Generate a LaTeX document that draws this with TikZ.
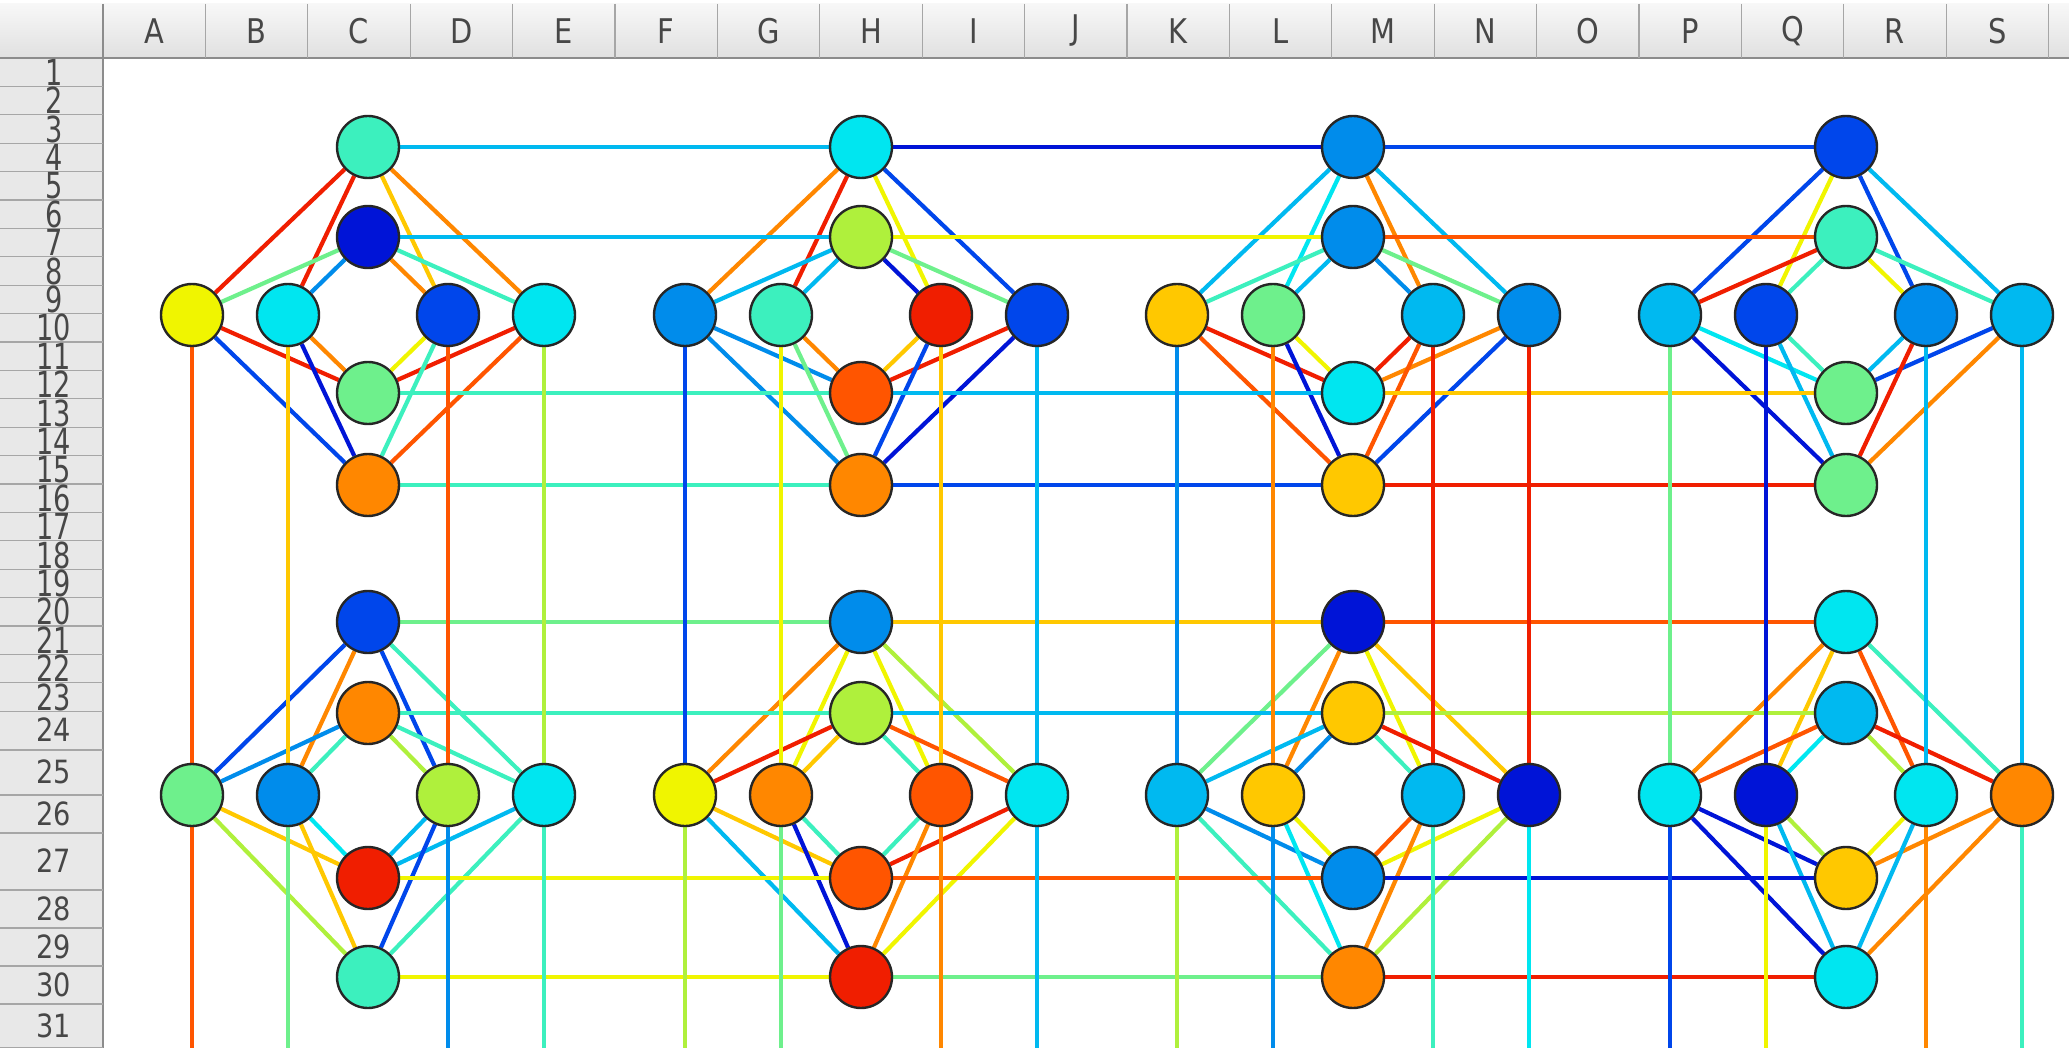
\documentclass[tikz,border=0pt]{standalone}
\usepackage{fontspec}
\newfontfamily\sheetfont[FakeStretch=0.85]{DejaVu Sans}
\usetikzlibrary{backgrounds}
\definecolor{jnavy}{RGB}{0,20,215}
\definecolor{jblue}{RGB}{0,70,235}
\definecolor{jmid}{RGB}{0,140,235}
\definecolor{jsky}{RGB}{0,185,240}
\definecolor{jcyan}{RGB}{0,230,240}
\definecolor{jaqua}{RGB}{60,240,190}
\definecolor{jmint}{RGB}{110,240,140}
\definecolor{jlime}{RGB}{175,240,60}
\definecolor{jyel}{RGB}{240,245,0}
\definecolor{jgold}{RGB}{255,200,0}
\definecolor{jorng}{RGB}{255,135,0}
\definecolor{jtang}{RGB}{255,85,0}
\definecolor{jred}{RGB}{240,30,0}

\begin{document}
\begin{tikzpicture}[x=1pt, y=-1pt,
  vtx/.style={circle, draw=black!85, line width=2.4pt, minimum size=62pt, inner sep=0pt},
  wire/.style={line width=4.2pt},
  colhead/.style={font=\sheetfont\fontsize{34}{34}\selectfont, text=black!72},
  rowhead/.style={font=\sheetfont\fontsize{32}{32}\selectfont, text=black!72, inner sep=0pt},
  gridline/.style={draw=black!35, line width=1.2pt},
]
\useasboundingbox (0,0) rectangle (2069,1048);

% sheet header and row numbers
\shade[top color=black!3, bottom color=black!12] (0,4) rectangle (2069,58);
\fill[black!9] (0,58) rectangle (103,1048);
\draw[black!45, line width=2pt] (0,58) -- (2069,58);
\draw[black!45, line width=1.5pt] (103,4) -- (103,1048);
\foreach \c [count=\i] in {A,...,S} {
  \draw[gridline] ({103+102.4*\i},4) -- ({103+102.4*\i},58);
  \node[colhead] (col\c) at ({103+102.4*(\i-0.5)},31) {\c};
}
\foreach \r in {1,...,23} {
  \draw[gridline] (0,{58+28.4*\r}) -- (103,{58+28.4*\r});
  \node[rowhead] (row\r) at (54,{58+28.4*(\r-0.5)}) {\scalebox{1}[1.12]{\r}};
}
\foreach \r/\y/\e in {24/730/750, 25/772/795, 26/814/833, 27/861/890,
                      28/909/928, 29/947/966, 30/985/1004, 31/1026/1048} {
  \draw[gridline] (0,\e) -- (103,\e);
  \node[rowhead] (row\r) at (54,\y) {\r};
}

% the eight cells: t, u, d, b against lo, li, ri, ro
\foreach \yt/\yu/\ym/\yd/\yb/\clist in {
  147/237/315/393/485/{1/368/jaqua/jnavy/jyel/jcyan/jblue/jcyan/jmint/jorng,
                       2/861/jcyan/jlime/jmid/jaqua/jred/jblue/jtang/jorng,
                       3/1353/jmid/jmid/jgold/jmint/jsky/jmid/jcyan/jgold,
                       4/1846/jblue/jaqua/jsky/jblue/jmid/jsky/jmint/jmint},
  622/713/795/878/977/{5/368/jblue/jorng/jmint/jmid/jlime/jcyan/jred/jaqua,
                       6/861/jmid/jlime/jyel/jorng/jtang/jcyan/jtang/jred,
                       7/1353/jnavy/jgold/jsky/jgold/jsky/jnavy/jmid/jorng,
                       8/1846/jcyan/jsky/jcyan/jnavy/jcyan/jorng/jgold/jcyan}}
  \foreach \k/\cx/\ft/\fu/\flo/\fli/\fri/\fro/\fd/\fb in \clist
    \foreach \n/\dx/\y/\f in {t/0/\yt/\ft, u/0/\yu/\fu, lo/-176/\ym/\flo, li/-80/\ym/\fli,
                              ri/80/\ym/\fri, ro/176/\ym/\fro, d/0/\yd/\fd, b/0/\yb/\fb}
      \node[vtx, fill=\f] (\n\k) at ({\cx+(\dx)},\y) {};

\coordinate (floor) at (0,1048);

\begin{scope}[on background layer]
% inside each cell
\foreach \k/\elist in {
  1/{t/jred/jred/jgold/jorng, u/jmint/jmid/jorng/jaqua, d/jred/jorng/jyel/jred, b/jblue/jnavy/jaqua/jtang},
  2/{t/jorng/jred/jyel/jblue, u/jsky/jsky/jnavy/jmint, d/jmid/jorng/jgold/jred, b/jmid/jmint/jblue/jnavy},
  3/{t/jsky/jcyan/jorng/jsky, u/jaqua/jsky/jmid/jmint, d/jred/jyel/jred/jorng, b/jtang/jnavy/jtang/jblue},
  4/{t/jblue/jyel/jblue/jsky, u/jred/jaqua/jyel/jaqua, d/jcyan/jaqua/jsky/jblue, b/jnavy/jsky/jred/jorng},
  5/{t/jblue/jorng/jblue/jaqua, u/jmid/jaqua/jlime/jaqua, d/jgold/jcyan/jsky/jsky, b/jlime/jgold/jblue/jaqua},
  6/{t/jorng/jyel/jyel/jlime, u/jred/jgold/jaqua/jtang, d/jgold/jaqua/jaqua/jred, b/jsky/jnavy/jorng/jyel},
  7/{t/jmint/jorng/jyel/jgold, u/jsky/jmid/jaqua/jred, d/jmid/jyel/jtang/jyel, b/jaqua/jcyan/jorng/jlime},
  8/{t/jorng/jgold/jtang/jaqua, u/jtang/jcyan/jlime/jred, d/jnavy/jlime/jyel/jorng, b/jnavy/jsky/jsky/jorng}}
  \foreach \h/\ca/\cb/\cc/\cd in \elist {
    \draw[wire, draw=\ca] (\h\k) -- (lo\k);
    \draw[wire, draw=\cb] (\h\k) -- (li\k);
    \draw[wire, draw=\cc] (\h\k) -- (ri\k);
    \draw[wire, draw=\cd] (\h\k) -- (ro\k);
  }
% rows of cells
\foreach \a/\b/\h/\c in {1/2/t/jsky, 2/3/t/jnavy, 3/4/t/jblue, 1/2/u/jsky, 2/3/u/jyel, 3/4/u/jtang,
    1/2/d/jaqua, 2/3/d/jsky, 3/4/d/jgold, 1/2/b/jaqua, 2/3/b/jblue, 3/4/b/jred,
    5/6/t/jmint, 6/7/t/jgold, 7/8/t/jtang, 5/6/u/jaqua, 6/7/u/jsky, 7/8/u/jlime,
    5/6/d/jyel, 6/7/d/jtang, 7/8/d/jnavy, 5/6/b/jyel, 6/7/b/jmint, 7/8/b/jred}
  \draw[wire, draw=\c] (\h\a) -- (\h\b);
% columns of cells, running off the bottom
\foreach \a/\b/\s/\c/\e in {1/5/lo/jtang/jtang, 1/5/li/jgold/jmint, 1/5/ri/jtang/jmid, 1/5/ro/jlime/jaqua,
    2/6/lo/jblue/jlime, 2/6/li/jyel/jmint, 2/6/ri/jgold/jorng, 2/6/ro/jsky/jsky,
    3/7/lo/jmid/jlime, 3/7/li/jorng/jmid, 3/7/ri/jred/jaqua, 3/7/ro/jred/jcyan,
    4/8/lo/jmint/jblue, 4/8/li/jnavy/jyel, 4/8/ri/jsky/jorng, 4/8/ro/jsky/jaqua} {
  \coordinate (\s\b-end) at (\s\b |- floor);
  \draw[wire, draw=\c] (\s\a) -- (\s\b);
  \draw[wire, draw=\e] (\s\b) -- (\s\b-end);
}
\end{scope}
\end{tikzpicture}
\end{document}
